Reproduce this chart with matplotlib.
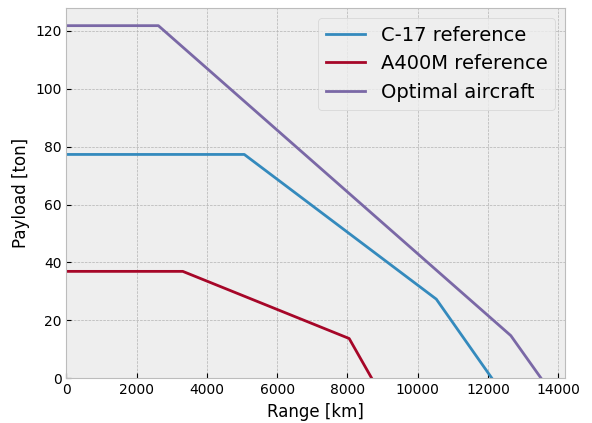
import matplotlib
matplotlib.use('Agg')
import matplotlib.pyplot as plt

# Payload-range diagram points (range in km, payload in ton)
c17_range = [0, 5065, 10530, 12110]
c17_payload = [77.3, 77.3, 27.3, 0]

a400m_range = [0, 3315, 8050, 8690]
a400m_payload = [36.9, 36.9, 13.7, 0]

opt_range = [0, 2620, 12650, 13510]
opt_payload = [121.8, 121.8, 14.7, 0]

plt.style.use('bmh')
fig, ax = plt.subplots(figsize=(5.92, 4.23), dpi=100)

ax.plot(c17_range, c17_payload, label='C-17 reference')
ax.plot(a400m_range, a400m_payload, label='A400M reference')
ax.plot(opt_range, opt_payload, label='Optimal aircraft')

ax.set_xlim(left=0)
ax.set_ylim(bottom=0)
ax.set_xlabel('Range [km]', fontsize=12)
ax.set_ylabel('Payload [ton]', fontsize=12)
ax.legend(fontsize=14, loc='upper right')

fig.subplots_adjust(left=0.112, right=0.954, top=0.981, bottom=0.106)
fig.savefig('out.png')
